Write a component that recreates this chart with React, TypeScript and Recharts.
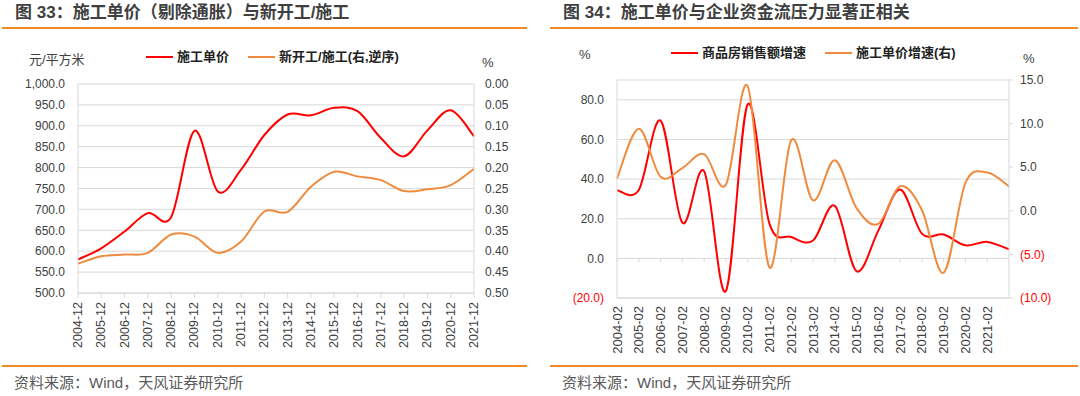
import React from "react";
import { CartesianGrid, Legend, Line, LineChart, XAxis, YAxis } from "recharts";

// ---- figure 33: build cost per m2 vs new starts / under construction ----
const costYears = [
  "2004-12", "2005-12", "2006-12", "2007-12", "2008-12", "2009-12", "2010-12", "2011-12", "2012-12",
  "2013-12", "2014-12", "2015-12", "2016-12", "2017-12", "2018-12", "2019-12", "2020-12", "2021-12",
];
const costPrice = [580, 607, 647, 691, 682, 888, 743, 795, 878, 927, 925, 943, 935, 871, 827, 889, 937, 875];
const newStartRatio = [
  0.43, 0.412, 0.408, 0.404, 0.36, 0.365, 0.404, 0.377, 0.305, 0.306, 0.246, 0.21, 0.221, 0.23, 0.256, 0.252,
  0.242, 0.203,
];
const costLeftTicks = [500, 550, 600, 650, 700, 750, 800, 850, 900, 950, 1000];
const costRightTicks = [0, 0.05, 0.1, 0.15, 0.2, 0.25, 0.3, 0.35, 0.4, 0.45, 0.5];

// ---- figure 34: sales growth vs build cost growth ----
const growthDates = [
  "2004-02", "2005-02", "2006-02", "2007-02", "2008-02", "2009-02", "2010-02", "2011-02", "2012-02",
  "2013-02", "2014-02", "2015-02", "2016-02", "2017-02", "2018-02", "2019-02", "2020-02", "2021-02", "2022-02",
];
const growthLabels = growthDates.slice(0, 18);
const salesGrowth = [34.4, 34.5, 69.5, 18, 44, -16.5, 77.7, 17.5, 10.8, 9, 26.5, -6.5, 14, 34.7, 12.5, 12, 6.6, 8.3, 4.6];
const priceGrowth = [3.7, 9.4, 3.9, 4.9, 6.5, 3.0, 14.3, -6.5, 8.1, 1.2, 5.8, 0.3, -1.5, 2.8, 0.1, -7.1, 3.2, 4.4, 2.8];
const growthLeftTicks = [-20, 0, 20, 40, 60, 80];
const growthRightTicks = [-10, -5, 0, 5, 10, 15];

const RED = "#ff0000";
const ORANGE = "#ef8b3f";
const RULE = "#f08a24";
const GRID = "#d9d9d9";
const TEXT = "#404040";
const FONT = '"Liberation Sans", "Noto Sans CJK SC", sans-serif';

// plot box of the right chart, used to put the x ticks on the zero line
const G_TOP = 80;
const G_BOTTOM = 298;
const G_MIN = -20;
const G_MAX = 90;
const ZERO_Y = G_TOP + ((G_MAX - 0) / (G_MAX - G_MIN)) * (G_BOTTOM - G_TOP);

const costData = costYears.map((year, i) => ({ year, price: costPrice[i], ratio: newStartRatio[i] }));
const growthData = growthDates.map((date, i) => ({ date, sales: salesGrowth[i], cost: priceGrowth[i] }));
const growthLabelSet = new Set(growthLabels);

// excel style smoothing (catmull-rom through every point)
const excelSmooth = (context: any) => {
  let pts: number[][] = [];
  return {
    areaStart() {},
    areaEnd() {},
    lineStart() {
      pts = [];
    },
    point(x: number, y: number) {
      pts.push([+x, +y]);
    },
    lineEnd() {
      if (!pts.length) return;
      context.moveTo(pts[0][0], pts[0][1]);
      for (let i = 0; i < pts.length - 1; i++) {
        const a = pts[Math.max(i - 1, 0)];
        const b = pts[i];
        const c = pts[i + 1];
        const d = pts[Math.min(i + 2, pts.length - 1)];
        context.bezierCurveTo(
          b[0] + (c[0] - a[0]) / 6,
          b[1] + (c[1] - a[1]) / 6,
          c[0] - (d[0] - b[0]) / 6,
          c[1] - (d[1] - b[1]) / 6,
          c[0],
          c[1],
        );
      }
    },
  };
};

function DateTick({ x, y, payload, zeroTick, size }: any) {
  if (zeroTick && !growthLabelSet.has(payload.value)) return <g />;
  return (
    <g>
      {zeroTick && <line x1={x} x2={x} y1={ZERO_Y} y2={ZERO_Y + 4} stroke={GRID} />}
      <text
        x={x}
        y={y}
        transform={`rotate(-90, ${x}, ${y})`}
        textAnchor="end"
        dominantBaseline="central"
        fill={TEXT}
        fontSize={size}
      >
        {payload.value}
      </text>
    </g>
  );
}

function SignedTick({ x, y, payload, textAnchor }: any) {
  const v = payload.value;
  const text = v < 0 ? `(${Math.abs(v).toFixed(1)})` : v.toFixed(1);
  return (
    <text x={x} y={y} dy="0.35em" textAnchor={textAnchor} fill={v < 0 ? RED : TEXT} fontSize={12}>
      {text}
    </text>
  );
}

function LegendRow({ items }: { items: { label: string; color: string }[] }) {
  return (
    <div style={{ display: "flex", alignItems: "center", whiteSpace: "nowrap" }}>
      {items.map((item) => (
        <div key={item.label} style={{ display: "flex", alignItems: "center", marginRight: 19 }}>
          <span style={{ display: "inline-block", width: 27, height: 2, background: item.color, marginRight: 4 }} />
          <span style={{ fontSize: 13, fontWeight: 700, color: "#222", lineHeight: "18px" }}>{item.label}</span>
        </div>
      ))}
    </div>
  );
}

function Abs({ left, top, children, style }: any) {
  return <div style={{ position: "absolute", left, top, ...style }}>{children}</div>;
}

function Panel({ left, width, title }: { left: number; width: number; title: string }) {
  return (
    <>
      <Abs left={left + 13} top={2} style={{ fontSize: 17, fontWeight: 700, color: TEXT, lineHeight: "22px", whiteSpace: "nowrap" }}>
        {title}
      </Abs>
      <Abs left={left} top={27} style={{ width, height: 2, background: RULE }} />
      <Abs left={left} top={365} style={{ width, height: 2, background: RULE }} />
      <Abs left={left + 12} top={373} style={{ fontSize: 15, color: "#595959", lineHeight: "20px", whiteSpace: "nowrap" }}>
        资料来源：Wind，天风证券研究所
      </Abs>
    </>
  );
}

function CostChart() {
  return (
    <LineChart width={540} height={396} data={costData} margin={{ top: 84, right: 10, bottom: 43, left: 0 }}>
      <CartesianGrid yAxisId="left" vertical={false} stroke={GRID} />
      <XAxis
        dataKey="year"
        height={60}
        interval={0}
        stroke={GRID}
        tickSize={5}
        tickMargin={4}
        tick={<DateTick size={12.5} />}
      />
      <YAxis
        yAxisId="left"
        width={78}
        domain={[500, 1000]}
        ticks={costLeftTicks}
        interval={0}
        stroke={GRID}
        tickLine={false}
        tickSize={0}
        tickMargin={13}
        tick={{ fill: TEXT, fontSize: 12 }}
        tickFormatter={(v: number) => v.toLocaleString("en-US", { minimumFractionDigits: 1, maximumFractionDigits: 1 })}
      />
      <YAxis
        yAxisId="right"
        orientation="right"
        width={56}
        reversed
        domain={[0, 0.5]}
        ticks={costRightTicks}
        interval={0}
        stroke={GRID}
        tickLine={false}
        tickSize={0}
        tickMargin={11}
        tick={{ fill: TEXT, fontSize: 12 }}
        tickFormatter={(v: number) => v.toFixed(2)}
      />
      <Legend
        layout="horizontal"
        verticalAlign="middle"
        align="center"
        wrapperStyle={{ top: 48, left: 146, width: "auto" }}
        content={() => (
          <LegendRow
            items={[
              { label: "施工单价", color: RED },
              { label: "新开工/施工(右,逆序)", color: ORANGE },
            ]}
          />
        )}
      />
      <Line yAxisId="left" dataKey="price" name="施工单价" stroke={RED} strokeWidth={2} type={excelSmooth as any} dot={false} activeDot={false} isAnimationActive={false} />
      <Line yAxisId="right" dataKey="ratio" name="新开工/施工(右,逆序)" stroke={ORANGE} strokeWidth={2} type={excelSmooth as any} dot={false} activeDot={false} isAnimationActive={false} />
    </LineChart>
  );
}

function GrowthChart() {
  return (
    <LineChart width={540} height={396} data={growthData} margin={{ top: G_TOP, right: 10, bottom: 396 - G_BOTTOM - 60, left: 0 }}>
      <CartesianGrid yAxisId="left" vertical={false} stroke={GRID} />
      <XAxis
        dataKey="date"
        height={60}
        interval={0}
        stroke={GRID}
        tickLine={false}
        tickSize={0}
        tickMargin={8}
        tick={<DateTick zeroTick size={13} />}
      />
      <YAxis
        yAxisId="left"
        width={77}
        domain={[G_MIN, G_MAX]}
        ticks={growthLeftTicks}
        interval={0}
        allowDataOverflow
        stroke={GRID}
        tickLine={false}
        tickSize={0}
        tickMargin={13}
        tick={<SignedTick />}
      />
      <YAxis
        yAxisId="right"
        orientation="right"
        width={61}
        domain={[-10, 15]}
        ticks={growthRightTicks}
        interval={0}
        allowDataOverflow
        stroke={GRID}
        tickSize={4}
        tickMargin={7}
        tick={<SignedTick />}
      />
      <Legend
        layout="horizontal"
        verticalAlign="middle"
        align="center"
        wrapperStyle={{ top: 44, left: 131, width: "auto" }}
        content={() => (
          <LegendRow
            items={[
              { label: "商品房销售额增速", color: RED },
              { label: "施工单价增速(右)", color: ORANGE },
            ]}
          />
        )}
      />
      <Line yAxisId="left" dataKey="sales" name="商品房销售额增速" stroke={RED} strokeWidth={2} type={excelSmooth as any} dot={false} activeDot={false} isAnimationActive={false} />
      <Line yAxisId="right" dataKey="cost" name="施工单价增速(右)" stroke={ORANGE} strokeWidth={2} type={excelSmooth as any} dot={false} activeDot={false} isAnimationActive={false} />
    </LineChart>
  );
}

export default function App() {
  return (
    <div style={{ position: "absolute", left: 0, top: 0, width: 1080, height: 396, background: "#fff", fontFamily: FONT, overflow: "hidden" }}>
      <Panel left={2} width={525} title="图 33：施工单价（剔除通胀）与新开工/施工" />
      <Panel left={550} width={528} title="图 34：施工单价与企业资金流压力显著正相关" />

      <Abs left={0} top={0}>
        <CostChart />
      </Abs>
      <Abs left={540} top={0}>
        <GrowthChart />
      </Abs>

      <Abs left={29} top={51} style={{ fontSize: 13, color: TEXT, lineHeight: "18px" }}>元/平方米</Abs>
      <Abs left={482} top={54} style={{ fontSize: 13, color: TEXT, lineHeight: "18px" }}>%</Abs>
      <Abs left={579} top={46} style={{ fontSize: 13, color: TEXT, lineHeight: "18px" }}>%</Abs>
      <Abs left={1023} top={50} style={{ fontSize: 13, color: TEXT, lineHeight: "18px" }}>%</Abs>
    </div>
  );
}
